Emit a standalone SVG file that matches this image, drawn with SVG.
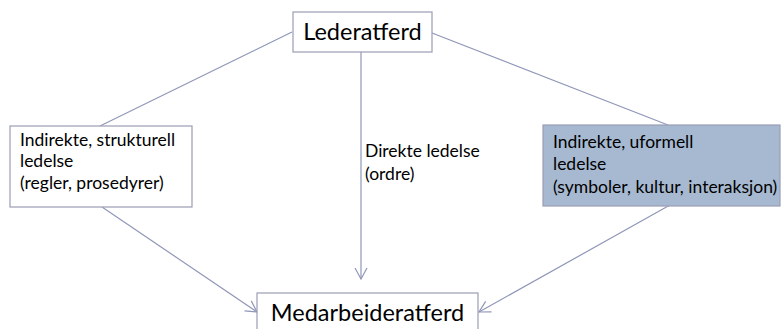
<svg xmlns="http://www.w3.org/2000/svg" width="783" height="329" viewBox="0 0 783 329">
<defs>
<style>
.box{fill:#ffffff;stroke:#9a9db4;stroke-width:1.2}
.blue{fill:#a6b9d0;stroke:#9a9db4;stroke-width:1.2}
.big{font-family:Lato,"Open Sans",sans-serif;font-size:23.5px;fill:#000}
.sm{font-family:Lato,"Open Sans",sans-serif;font-size:17.5px;fill:#000}
.con{stroke:#9097b8;stroke-width:1.2;fill:none}
</style>
<marker id="arr" markerWidth="14" markerHeight="14" refX="12" refY="7" orient="auto" markerUnits="userSpaceOnUse">
<path d="M1,1 L12,7 L1,13" fill="none" stroke="#9097b8" stroke-width="1.2"/>
</marker>
</defs>
<g id="connectors">
<line class="con" x1="292" y1="32" x2="100" y2="126"/>
<line class="con" x1="432" y1="33" x2="668" y2="125"/>
<line class="con" x1="361" y1="52" x2="361" y2="279" marker-end="url(#arr)"/>
<line class="con" x1="102" y1="207" x2="257" y2="312" marker-end="url(#arr)"/>
<line class="con" x1="670" y1="205" x2="479" y2="312" marker-end="url(#arr)"/>
</g>
<g id="lederatferd">
<rect class="box" x="293" y="12" width="139" height="40"/>
<text class="big" x="362.5" y="40" text-anchor="middle">Lederatferd</text>
</g>
<g id="strukturell">
<rect class="box" x="10" y="126" width="182" height="81"/>
<text class="sm" x="20" y="146">Indirekte, strukturell</text>
<text class="sm" x="20" y="167">ledelse</text>
<text class="sm" x="20" y="189">(regler, prosedyrer)</text>
</g>
<g id="direkte">
<text class="sm" x="365" y="157">Direkte ledelse</text>
<text class="sm" x="365" y="180">(ordre)</text>
</g>
<g id="uformell">
<rect class="blue" x="543" y="125" width="237" height="81"/>
<text class="sm" x="553" y="148">Indirekte, uformell</text>
<text class="sm" x="553" y="170">ledelse</text>
<text class="sm" x="553" y="193">(symboler, kultur, interaksjon)</text>
</g>
<g id="medarbeideratferd">
<rect class="box" x="257" y="293" width="221" height="45"/>
<text class="big" x="367.5" y="321" text-anchor="middle">Medarbeideratferd</text>
</g>
</svg>
